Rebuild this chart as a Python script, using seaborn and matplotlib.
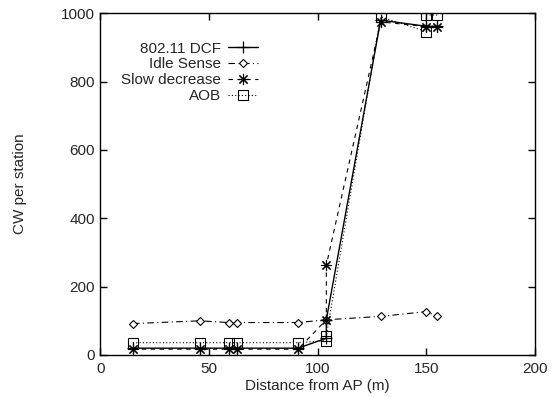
import matplotlib
matplotlib.use("Agg")
import matplotlib.pyplot as plt
import seaborn as sns
import pandas as pd

# Distance from the access point (m) and contention window per station
dcf_x = [15, 46, 59, 63, 91, 104, 104, 129, 150, 155]
dcf_y = [20, 20, 20, 20, 20, 49, 103, 980, 962, 962]

idle_x = [15, 46, 59, 63, 91, 104, 129, 150, 155]
idle_y = [92, 100, 95, 95, 95, 103, 113, 127, 113]

slow_x = [15, 46, 59, 63, 91, 104, 104, 129, 150, 155]
slow_y = [17, 17, 17, 17, 17, 103, 263, 975, 961, 961]

aob_x = [15, 46, 59, 63, 91, 104, 104, 129, 150, 150, 155]
aob_y = [36, 36, 36, 36, 36, 42, 56, 990, 946, 995, 995]

series_names = ["802.11 DCF", "Idle Sense", "Slow decrease", "AOB"]
x_ticks = [0, 50, 100, 150, 200]
y_ticks = [0, 200, 400, 600, 800, 1000]

sns.set_theme(style="white")
plt.rcParams["font.family"] = ["Liberation Sans", "DejaVu Sans"]

frames = []
for name, xs, ys in zip(series_names,
                        [dcf_x, idle_x, slow_x, aob_x],
                        [dcf_y, idle_y, slow_y, aob_y]):
    frames.append(pd.DataFrame({"distance": xs, "cw": ys, "scheme": name}))
df = pd.concat(frames, ignore_index=True)

styles = {
    "802.11 DCF": dict(ls="-", marker="+", ms=8, mew=0.9, lw=1.0, mfc="black"),
    "Idle Sense": dict(ls=(0, (6, 3, 1, 3)), marker="D", ms=4.5, mew=0.8, lw=0.8,
                       mfc="white"),
    "Slow decrease": dict(ls=(0, (4, 4)), marker=(8, 2, 0), ms=8, mew=0.8, lw=0.8,
                          mfc="black"),
    "AOB": dict(ls=(0, (1, 2)), marker="s", ms=7, mew=0.8, lw=0.8, mfc="none"),
}

fig = plt.figure(figsize=(5.57, 3.97), dpi=100)
ax = fig.add_axes([0.180, 0.1058, 0.7805, 0.8607])

handles = []
for name in series_names:
    sub = df[df["scheme"] == name]
    st = styles[name]
    sns.lineplot(data=sub, x="distance", y="cw", sort=False, estimator=None,
                 ax=ax, color="black", legend=False, linestyle=st["ls"],
                 marker=st["marker"], markersize=st["ms"],
                 markeredgewidth=st["mew"], linewidth=st["lw"],
                 markerfacecolor=st["mfc"], markeredgecolor="black")
    line = ax.get_lines()[-1]
    line.set_label(name)
    handles.append(line)

ax.set_xlim(0, 200)
ax.set_ylim(0, 1000)
ax.set_xticks(x_ticks)
ax.set_yticks(y_ticks)
ax.set_xlabel("Distance from AP (m)", fontsize=11, labelpad=2)
ax.set_ylabel("CW per station", fontsize=11, labelpad=24)
ax.tick_params(axis="both", direction="in", length=5, width=1, labelsize=11,
               top=True, right=True, bottom=True, left=True, color="black")
ax.tick_params(axis="y", pad=4)
ax.tick_params(axis="x", pad=5)
for sp in ax.spines.values():
    sp.set_visible(True)
    sp.set_color("black")
    sp.set_linewidth(1.0)

leg = ax.legend(handles, series_names, loc="upper right",
                bbox_to_anchor=(0.363, 0.917), frameon=False, markerfirst=False,
                fontsize=11, handlelength=2.0, handletextpad=0.45,
                labelspacing=0.12, borderaxespad=0.0, borderpad=0.0)

fig.savefig("out.png", dpi=100)
